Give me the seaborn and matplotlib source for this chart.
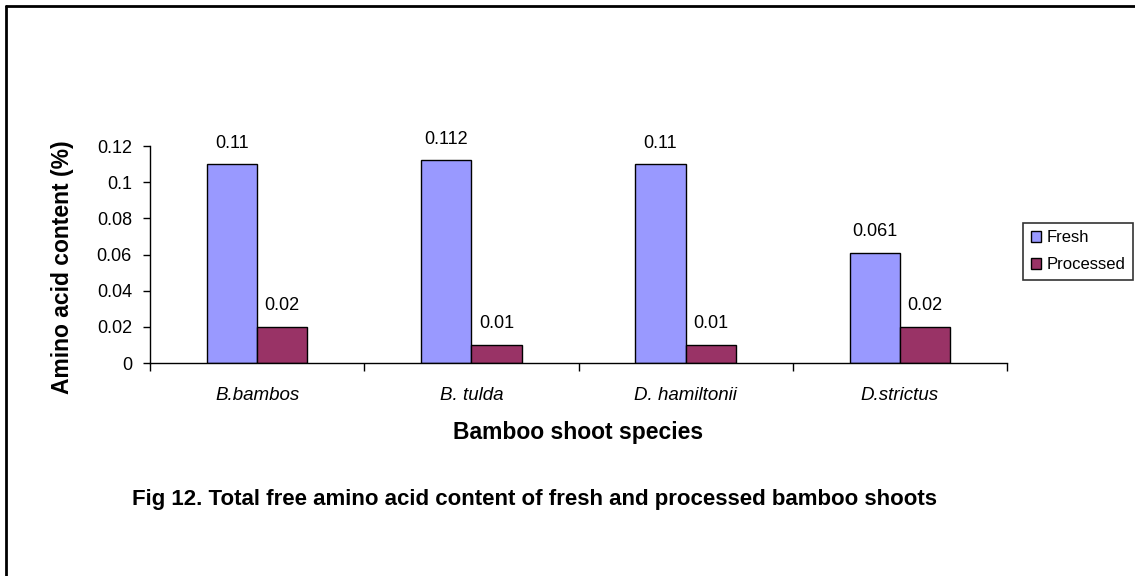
import matplotlib
matplotlib.use("Agg")
import matplotlib.pyplot as plt
from matplotlib.lines import Line2D
import seaborn as sns
import pandas as pd

species = ["B.bambos", "B. tulda", "D. hamiltonii", "D.strictus"]
fresh = [0.11, 0.112, 0.11, 0.061]
processed = [0.02, 0.01, 0.01, 0.02]
fresh_labels = ["0.11", "0.112", "0.11", "0.061"]
processed_labels = ["0.02", "0.01", "0.01", "0.02"]
series = ["Fresh", "Processed"]
colors = ["#9999FF", "#993366"]
yticks = [0, 0.02, 0.04, 0.06, 0.08, 0.1, 0.12]
ytick_labels = ["0", "0.02", "0.04", "0.06", "0.08", "0.1", "0.12"]

df = pd.DataFrame({
    "Species": species * 2,
    "Series": [series[0]] * len(species) + [series[1]] * len(species),
    "Value": fresh + processed,
})

sns.set_theme(style="white")
plt.rcParams["font.family"] = ["Liberation Sans", "DejaVu Sans"]
plt.rcParams["text.color"] = "black"
plt.rcParams["axes.labelcolor"] = "black"
plt.rcParams["xtick.color"] = "black"
plt.rcParams["ytick.color"] = "black"

W, H = 1135, 576
fig = plt.figure(figsize=(W / 100, H / 100), dpi=100)
ax = fig.add_axes([150 / W, 1 - 363 / H, (1007 - 150) / W, (363 - 146) / H])

sns.barplot(data=df, x="Species", y="Value", hue="Series", palette=colors,
            width=0.47, gap=0, edgecolor="black", linewidth=1, ax=ax,
            legend=True, saturation=1)

ax.set_xlim(-0.5, len(species) - 0.5)
ax.set_ylim(0, 0.12)
ax.set_yticks(yticks)
ax.set_yticklabels(ytick_labels, fontsize=13)
ax.set_xticks(range(len(species)))
ax.set_xticklabels(species, fontsize=13.5, style="italic")
ax.set_xticks([i - 0.5 for i in range(len(species) + 1)], minor=True)
ax.tick_params(axis="x", which="major", length=0, pad=17)
ax.tick_params(axis="x", which="minor", length=6, width=1, color="black", direction="out", bottom=True)
ax.tick_params(axis="y", length=5, width=1, color="black", direction="out", left=True, pad=8)
for s in ["top", "right"]:
    ax.spines[s].set_visible(False)
for s in ["left", "bottom"]:
    ax.spines[s].set_color("black")
    ax.spines[s].set_linewidth(1)

ax.set_xlabel("Bamboo shoot species", fontsize=16.5, fontweight="bold")
ax.set_ylabel("Amino acid content (%)", fontsize=16.5, fontweight="bold")
ax.xaxis.set_label_coords(0.5, (363 - 432) / 217)
ax.yaxis.set_label_coords((62 - 150) / 857, (363 - 267.5) / 217)
ax.xaxis.label.set_va("center")
ax.yaxis.label.set_va("center")

for cont, labs in zip(ax.containers, [fresh_labels, processed_labels]):
    ax.bar_label(cont, labels=labs, padding=9, fontsize=13)

leg = ax.legend(loc="upper left", bbox_to_anchor=(1023 / W, 1 - 223 / H),
                bbox_transform=fig.transFigure, borderaxespad=0, fontsize=12,
                frameon=True, fancybox=False, edgecolor="black",
                handlelength=0.6, handleheight=0.6, handletextpad=0.35,
                labelspacing=0.7, borderpad=0.45)
leg.get_frame().set_linewidth(1.2)

fig.text(534 / W, 1 - 500 / H,
         "Fig 12. Total free amino acid content of fresh and processed bamboo shoots",
         ha="center", va="center", fontsize=16, fontweight="bold")

fig.add_artist(Line2D([6 / W, 6 / W], [0, 1 - 6 / H], transform=fig.transFigure,
                      color="black", linewidth=2))
fig.add_artist(Line2D([6 / W, 1], [1 - 6 / H, 1 - 6 / H], transform=fig.transFigure,
                      color="black", linewidth=2))

fig.savefig("out.png", dpi=100)
